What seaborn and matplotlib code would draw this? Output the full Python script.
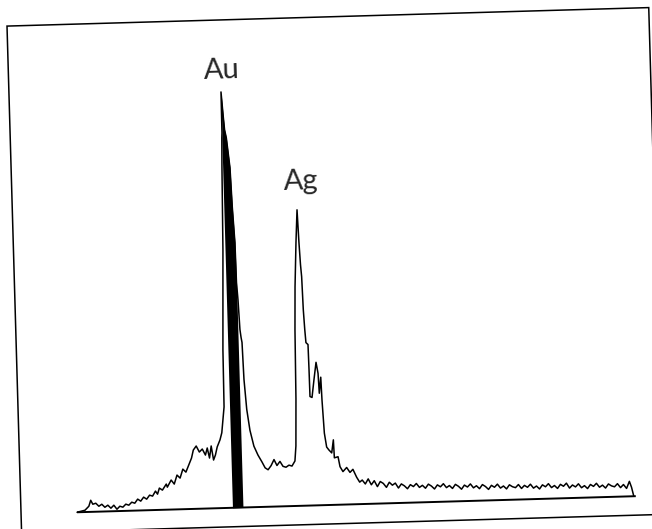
import numpy as np
import pandas as pd
import matplotlib
matplotlib.use("Agg")
import matplotlib.pyplot as plt
import seaborn as sns
from matplotlib.transforms import Affine2D
from matplotlib.patches import Rectangle

sns.set_style("white")
plt.rcParams["font.family"] = ["Lato", "DejaVu Sans"]

# spectrum: channel number and counts
channel = [56, 64, 68, 70, 72, 75, 78, 81, 84, 87, 90, 93, 96, 99, 102, 105, 108, 111,
           114, 117, 120, 123, 126, 129, 132, 135, 137, 139, 142, 146, 147, 151, 154,
           157, 160, 163, 166, 169, 172, 174, 177, 180, 183, 186, 188, 190, 192, 194,
           196, 198, 201, 203, 206, 206.5, 209.4, 210.8, 211.5, 211.8, 212, 213.5, 214.5,
           216, 218.8, 220, 221.6, 222, 223, 224.1, 225, 225.8, 226.7, 228.6, 231.2,
           234.7, 238.5, 242.3, 245.3, 248.2, 251.3, 254.4, 257.2, 260.3, 263.2, 266.2,
           269.2, 272.2, 275.3, 276.7, 278.1, 279.1, 280.4, 282.6, 284.6, 285.6, 286.5,
           287.3, 288, 288.9, 289.7, 291.7, 292, 292.2, 294.2, 296.7, 299.2, 300.9,
           301.6, 303.5, 304.1, 305.5, 307.4, 309.6, 312.3, 314.3, 314.8, 318.5, 320.2,
           323, 326.8, 330, 333, 336.5, 339.4,
           342, 345, 348, 351, 354, 357, 360, 363, 366, 369, 372, 375, 378, 381, 384,
           387, 390, 393, 396, 399, 402, 405, 408, 411, 414, 417, 420, 423, 426, 429,
           432, 435, 438, 441, 444, 447, 450, 453, 456, 459, 462, 465, 468, 471, 474,
           477, 480, 483, 486, 489, 492, 495, 498, 501, 504, 507, 510, 513, 516, 519,
           522, 525, 528, 531, 534, 537, 540, 543, 546, 549, 552, 555, 558, 561, 564,
           567, 570, 573, 576, 579, 582, 585, 588, 591, 594, 597, 600, 603, 606, 609,
           611, 613]
counts = [0, 18, 57, 116, 76, 85, 54, 73, 42, 62, 31, 60, 19, 48, 38, 67, 56, 85,
          74, 114, 93, 132, 111, 150, 140, 189, 158, 218, 197, 256, 225, 295, 254,
          343, 312, 401, 370, 440, 509, 588, 628, 567, 596, 535, 605, 504, 624, 483,
          533, 613, 683, 753, 1011, 1580, 2580, 3410, 3700, 3750, 4160, 3920, 3780,
          3700, 3400, 3000, 2650, 2250, 2080, 1780, 1700, 1650, 1280, 980, 770,
          610, 520, 450, 390, 370, 410, 470, 410, 450, 400, 390,
          410, 400, 450, 600, 1070, 1760, 2190, 2630, 2960, 2630, 2410,
          2290, 1960, 1760, 1630, 1610, 1360, 1090, 1080, 1260, 1430, 1320,
          1120, 1280, 1050, 720, 580, 550, 520, 650, 470, 480, 380,
          330, 370, 320, 350, 270, 220,
          240, 200, 250, 190, 230, 170, 220, 200, 160, 210, 180, 200, 150, 190, 170,
          140, 180, 160, 190, 150, 170, 140, 180, 160, 130, 170, 150, 180, 140, 160,
          130, 170, 150, 120, 160, 140, 170, 130, 150, 120, 160, 140, 110, 150, 130,
          160, 120, 140, 110, 150, 130, 120, 150, 110, 140, 120, 150, 110, 130, 100,
          140, 120, 150, 110, 130, 100, 140, 120, 150, 100, 130, 110, 140, 100, 120,
          90, 130, 110, 140, 100, 120, 90, 130, 110, 100, 130, 90, 120, 80, 150,
          90, 0]

# shaded Au region of interest (channels)
au_roi = (211.5, 222)

peak_labels = ["Au", "Ag"]
label_channel = [213.5, 289.4]
label_counts = [4290, 3160]

df = pd.DataFrame({"channel": channel, "counts": counts})

fig = plt.figure(figsize=(6.52, 5.29), dpi=100)
ax = fig.add_axes([14 / 652, 5 / 529, 642 / 652, 507 / 529])

# the scan is tilted a little
rot = Affine2D().rotate_deg_around(326, 264.5, 1.65)

mask = (df["channel"] >= au_roi[0]) & (df["channel"] <= au_roi[1])
ax.fill_between(df["channel"], df["counts"], 0, where=mask, color="black", lw=0)
ax.hlines(0, df["channel"].iloc[0], df["channel"].iloc[-1] + 2, color="black", lw=1.4)
sns.lineplot(data=df, x="channel", y="counts", ax=ax, color="black", lw=1.1,
             sort=False, estimator=None)

for lab, cx, cy in zip(peak_labels, label_channel, label_counts):
    ax.text(cx, cy, lab, fontsize=21, ha="center", va="baseline",
            rotation=1.65, rotation_mode="anchor", transform=ax.transData + rot)

ax.set_xlim(0, 642)
ax.set_ylim(-190, 4880)
ax.set_xticks([])
ax.set_yticks([])
ax.set_xlabel("")
ax.set_ylabel("")
for s in ax.spines.values():
    s.set_visible(False)

for art in list(ax.lines) + list(ax.collections):
    art.set_transform(ax.transData + rot)
    art.set_clip_on(False)

frame = Rectangle((0, 0), 1, 1, fill=False, lw=1.1, ec="black",
                  transform=ax.transAxes + rot, clip_on=False)
ax.add_patch(frame)

fig.savefig("out.png", dpi=100)
